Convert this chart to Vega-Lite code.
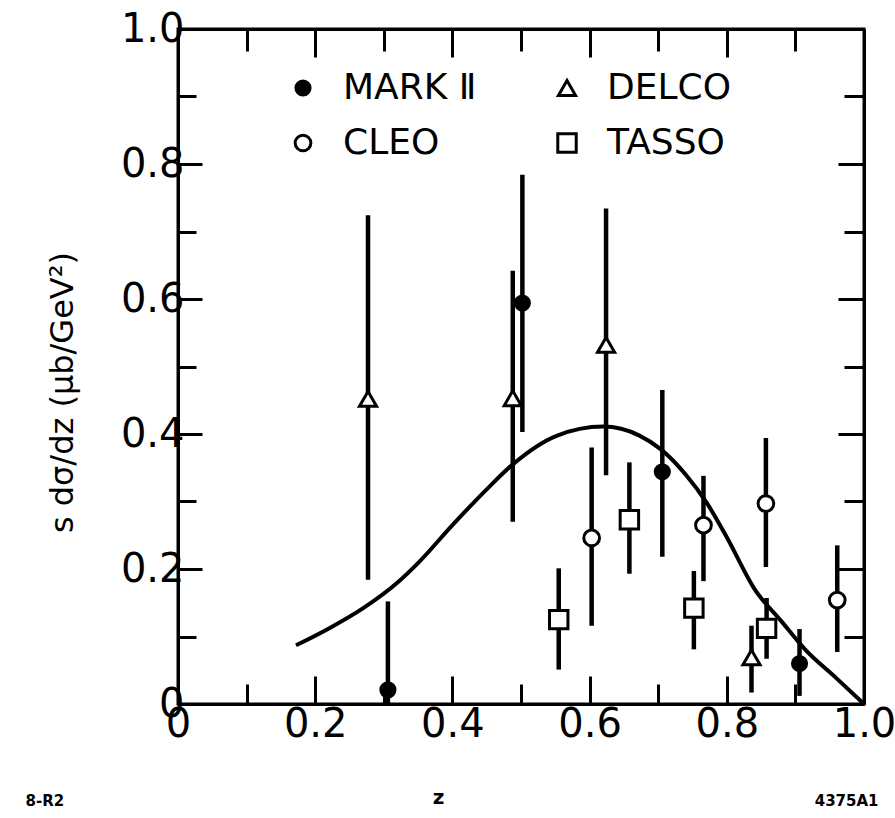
{
  "$schema": "https://vega.github.io/schema/vega-lite/v6.json",
  "width": 686,
  "height": 675,
  "autosize": {"type": "none"},
  "padding": {"left": 178, "top": 29, "right": 31, "bottom": 114},
  "background": "white",
  "config": {
    "font": "DejaVu Sans",
    "view": {"stroke": "black", "strokeWidth": 3},
    "axis": {"grid": false, "domainColor": "black", "domainWidth": 3, "tickColor": "black", "tickWidth": 3, "labelColor": "black", "titleColor": "black"}
  },
  "datasets": {
    "points": [
      {"experiment": "MARK Ⅱ", "z": 0.306, "val": 0.021, "lo": 0.0, "hi": 0.152},
      {"experiment": "MARK Ⅱ", "z": 0.502, "val": 0.594, "lo": 0.403, "hi": 0.784},
      {"experiment": "MARK Ⅱ", "z": 0.706, "val": 0.344, "lo": 0.218, "hi": 0.465},
      {"experiment": "MARK Ⅱ", "z": 0.906, "val": 0.060, "lo": 0.012, "hi": 0.111},
      {"experiment": "DELCO", "z": 0.277, "val": 0.452, "lo": 0.184, "hi": 0.724},
      {"experiment": "DELCO", "z": 0.488, "val": 0.453, "lo": 0.270, "hi": 0.642},
      {"experiment": "DELCO", "z": 0.624, "val": 0.532, "lo": 0.339, "hi": 0.734},
      {"experiment": "DELCO", "z": 0.836, "val": 0.069, "lo": 0.017, "hi": 0.116},
      {"experiment": "CLEO", "z": 0.603, "val": 0.246, "lo": 0.116, "hi": 0.380},
      {"experiment": "CLEO", "z": 0.766, "val": 0.265, "lo": 0.182, "hi": 0.338},
      {"experiment": "CLEO", "z": 0.857, "val": 0.297, "lo": 0.203, "hi": 0.394},
      {"experiment": "CLEO", "z": 0.961, "val": 0.154, "lo": 0.077, "hi": 0.235},
      {"experiment": "TASSO", "z": 0.555, "val": 0.125, "lo": 0.051, "hi": 0.201},
      {"experiment": "TASSO", "z": 0.658, "val": 0.273, "lo": 0.193, "hi": 0.358},
      {"experiment": "TASSO", "z": 0.752, "val": 0.142, "lo": 0.081, "hi": 0.197},
      {"experiment": "TASSO", "z": 0.858, "val": 0.112, "lo": 0.067, "hi": 0.157}
    ],
    "fit": [
      {"z": 0.172, "v": 0.087}, {"z": 0.22, "v": 0.112}, {"z": 0.27, "v": 0.142},
      {"z": 0.32, "v": 0.18}, {"z": 0.352, "v": 0.211}, {"z": 0.40, "v": 0.265},
      {"z": 0.45, "v": 0.318}, {"z": 0.488, "v": 0.355}, {"z": 0.551, "v": 0.397},
      {"z": 0.62, "v": 0.411}, {"z": 0.672, "v": 0.398}, {"z": 0.703, "v": 0.378},
      {"z": 0.74, "v": 0.34}, {"z": 0.772, "v": 0.296}, {"z": 0.80, "v": 0.247},
      {"z": 0.84, "v": 0.171}, {"z": 0.88, "v": 0.122}, {"z": 0.914, "v": 0.081},
      {"z": 0.96, "v": 0.038}, {"z": 1.0, "v": 0.0}
    ]
  },
  "layer": [
    {
      "data": {"name": "fit"},
      "mark": {"type": "line", "color": "black", "strokeWidth": 4, "interpolate": "monotone"},
      "encoding": {
        "x": {"field": "z", "type": "quantitative", "scale": {"domain": [0, 1], "nice": false, "zero": false},
          "axis": {"orient": "bottom", "values": [0, 0.1, 0.2, 0.3, 0.4, 0.5, 0.6, 0.7, 0.8, 0.9, 1.0],
            "labelExpr": "round(datum.value*10)%2==0 ? (datum.value==0 ? '0' : format(datum.value,'.1f')) : ''",
            "labelFontSize": 40, "labelPadding": 28, "labelFlush": false, "labelOverlap": false,
            "tickSize": {"condition": {"test": "round(datum.value*10)%2==0", "value": -28}, "value": -20},
            "title": "z", "titleFontSize": 20, "titleFontWeight": "bold", "titleX": 260, "titleY": 93, "titleBaseline": "middle", "titleAlign": "center"}},
        "y": {"field": "v", "type": "quantitative", "scale": {"domain": [0, 1], "nice": false, "zero": false},
          "axis": {"orient": "left", "values": [0, 0.1, 0.2, 0.3, 0.4, 0.5, 0.6, 0.7, 0.8, 0.9, 1.0],
            "labelExpr": "round(datum.value*10)%2==0 ? (datum.value==0 ? '0' : format(datum.value,'.1f')) : ''",
            "labelFontSize": 40, "labelPadding": 18, "labelFlush": false, "labelOverlap": false,
            "tickSize": {"condition": {"test": "round(datum.value*10)%2==0", "value": -24}, "value": -18},
            "title": "s dσ/dz   (μb/GeV²)", "titleFontSize": 32, "titleFontWeight": "normal", "titleAngle": -90,
            "titleX": -116, "titleY": 363, "titleAlign": "center", "titleBaseline": "middle"}}
      }
    },
    {
      "data": {"name": "points"},
      "mark": {"type": "rule", "color": "black", "strokeWidth": 4.5},
      "encoding": {
        "x": {"field": "z", "type": "quantitative",
          "axis": {"orient": "top", "values": [0, 0.1, 0.2, 0.3, 0.4, 0.5, 0.6, 0.7, 0.8, 0.9, 1.0], "labels": false,
            "tickSize": {"condition": {"test": "round(datum.value*10)%2==0", "value": -28}, "value": -22},
            "title": "8-R2", "titleFontSize": 15, "titleFontWeight": "bold", "titleAngle": 0,
            "titleX": -153, "titleY": 771, "titleAlign": "left", "titleBaseline": "middle"}},
        "y": {"field": "lo", "type": "quantitative",
          "axis": {"orient": "right", "values": [0, 0.1, 0.2, 0.3, 0.4, 0.5, 0.6, 0.7, 0.8, 0.9, 1.0], "labels": false,
            "tickSize": {"condition": {"test": "round(datum.value*10)%2==0", "value": -26}, "value": -20},
            "title": "4375A1", "titleFontSize": 15, "titleFontWeight": "bold", "titleAngle": 0,
            "titleX": 14, "titleY": 771, "titleAlign": "right", "titleBaseline": "middle"}},
        "y2": {"field": "hi"}
      }
    },
    {
      "data": {"name": "points"},
      "mark": {"type": "point", "filled": true, "stroke": "black", "strokeWidth": 3, "opacity": 1},
      "encoding": {
        "x": {"field": "z", "type": "quantitative", "axis": null},
        "y": {"field": "val", "type": "quantitative", "axis": null},
        "shape": {"field": "experiment", "type": "nominal",
          "scale": {"domain": ["MARK Ⅱ", "CLEO", "DELCO", "TASSO"], "range": ["circle", "circle", "triangle-up", "square"]},
          "legend": {"orient": "none", "legendX": 107, "legendY": 41, "columns": 2, "title": null,
            "labelFontSize": 36, "labelColor": "black", "labelOffset": 22, "columnPadding": 72, "rowPadding": 19,
            "symbolStrokeColor": "black", "symbolStrokeWidth": 3, "symbolOpacity": 1}},
        "fill": {"field": "experiment", "type": "nominal",
          "scale": {"domain": ["MARK Ⅱ", "CLEO", "DELCO", "TASSO"], "range": ["black", "white", "white", "white"]}},
        "size": {"field": "experiment", "type": "nominal",
          "scale": {"domain": ["MARK Ⅱ", "CLEO", "DELCO", "TASSO"], "range": [200, 340, 380, 400]}}
      }
    }
  ],
  "resolve": {"axis": {"x": "independent", "y": "independent"}}
}
